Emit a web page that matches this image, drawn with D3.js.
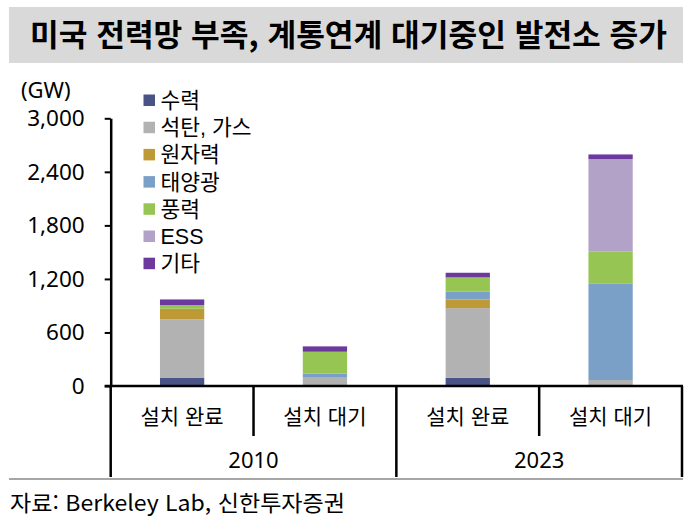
<!DOCTYPE html>
<html lang="ko">
<head>
  <meta charset="UTF-8">
  <title>미국 전력망 부족</title>
  <style>
    body { margin: 0; background: #fff; }
    text { font-family: "Noto Sans CJK KR", "Noto Sans", sans-serif; fill: #000; }
  </style>
</head>
<body>
  <svg id="mainsvg" width="690" height="521"></svg>
  <script src="https://cdn.jsdelivr.net/npm/d3@7"></script>
  <script>
    // 데이터 (GW)
    const years = ['2010', '2023']
    const categories = ['설치 완료', '설치 대기']
    const seriesNames = ['수력', '석탄, 가스', '원자력', '태양광', '풍력', 'ESS', '기타']
    const hydro   = [90, 0, 93, 0]
    const coalGas = [657, 93, 780, 67]
    const nuclear = [119, 0, 97, 0]
    const solar   = [0, 48, 90, 1083]
    const wind    = [41, 243, 157, 355]
    const ess     = [0, 0, 0, 1038]
    const other   = [63, 60, 52, 52]
    const yTicks  = [0, 600, 1200, 1800, 2400, 3000]
    const colors  = ['#4a5386', '#b2b2b2', '#bd9a36', '#7ba0c7', '#96c553', '#b3a2c7', '#6b3a9c']

    const seriesValues = [hydro, coalGas, nuclear, solar, wind, ess, other]
    const keys = []
    years.forEach(y => categories.forEach(c => keys.push(y + '|' + c)))
    const rows = keys.map((k, i) => {
      const row = { key: k }
      seriesNames.forEach((s, j) => { row[s] = seriesValues[j][i] })
      return row
    })

    const svg = d3.select('#mainsvg')
    const plotLeft = 110.7, plotRight = 682, plotTop = 118.3, base = 386, tableBottom = 477

    // 제목
    svg.append('rect').attr('x', 9).attr('y', 7).attr('width', 674).attr('height', 56).attr('fill', '#d9d9d9')
    svg.append('text').text('미국 전력망 부족, 계통연계 대기중인 발전소 증가')
      .attr('x', 348.5).attr('y', 46).attr('text-anchor', 'middle')
      .attr('font-size', 31).attr('font-weight', 'bold')
      .attr('textLength', 637).attr('lengthAdjust', 'spacingAndGlyphs')

    const xScale = d3.scaleBand().domain(keys).range([plotLeft, plotRight]).padding(0)
    const yScale = d3.scaleLinear().domain([0, 3000]).range([base, plotTop])
    const barW = xScale.bandwidth() * 0.31

    const stacked = d3.stack().keys(seriesNames)(rows)

    svg.append('g').selectAll('g').data(stacked).join('g')
      .attr('fill', (d, i) => colors[i])
      .selectAll('rect').data(d => d).join('rect')
      .attr('x', d => xScale(d.data.key) + (xScale.bandwidth() - barW) / 2)
      .attr('y', d => yScale(d[1]))
      .attr('width', barW)
      .attr('height', d => yScale(d[0]) - yScale(d[1]))

    // y축
    const yAxis = d3.axisLeft(yScale).tickValues(yTicks).tickFormat(d3.format(','))
      .tickSize(6).tickSizeOuter(0).tickPadding(20)
    const gy = svg.append('g').attr('transform', `translate(${plotLeft}, 0)`).call(yAxis)
    gy.select('.domain').attr('stroke', '#000').attr('stroke-width', 2.5)
    gy.selectAll('.tick line').attr('stroke', '#000').attr('stroke-width', 2)
    gy.selectAll('.tick text').attr('font-size', 22.5).attr('fill', '#000')
      .style('font-family', '"Noto Sans", sans-serif')

    svg.append('text').text('(GW)').attr('x', 21).attr('y', 98).attr('font-size', 22)
      .style('font-family', '"Noto Sans", sans-serif')

    // x축 및 표
    const tbl = svg.append('g').attr('stroke', '#000')
    tbl.append('line').attr('x1', plotLeft - 6).attr('x2', plotRight + 1).attr('y1', base).attr('y2', base).attr('stroke-width', 2.5)
    const edges = keys.map(k => xScale(k)).concat([xScale(keys[keys.length - 1]) + xScale.bandwidth()])
    edges.forEach((x, i) => {
      tbl.append('line').attr('x1', x).attr('x2', x).attr('y1', base)
        .attr('y2', i % 2 === 0 ? tableBottom : 436).attr('stroke-width', 2.5)
    })
    svg.append('line').attr('x1', 9).attr('x2', 683).attr('y1', 479).attr('y2', 479)
      .attr('stroke', '#a6a6a6').attr('stroke-width', 2)

    keys.forEach(k => {
      svg.append('text').text(k.split('|')[1])
        .attr('x', xScale(k) + xScale.bandwidth() / 2).attr('y', 424)
        .attr('text-anchor', 'middle').attr('font-size', 21)
    })
    years.forEach((y, i) => {
      const x0 = xScale(keys[i * 2])
      svg.append('text').text(y)
        .attr('x', x0 + xScale.bandwidth()).attr('y', 468)
        .attr('text-anchor', 'middle').attr('font-size', 22)
        .style('font-family', '"Noto Sans", sans-serif')
    })

    // 범례 (Liberation Sans 먼저 -> 글자 상자 높이가 줄 간격보다 작게)
    const legend = svg.append('g')
    seriesNames.forEach((s, i) => {
      const cy = 100 + i * 27.2
      legend.append('rect').attr('x', 143.5).attr('y', cy - 5.5).attr('width', 11.5).attr('height', 11.5).attr('fill', colors[i])
      legend.append('text').text(s).attr('x', 160.5).attr('y', cy + 8).attr('font-size', 21.5)
        .style('font-family', '"Liberation Sans", "Noto Sans CJK KR", sans-serif')
    })

    // 출처
    svg.append('text').text('자료: Berkeley Lab, 신한투자증권')
      .attr('x', 10).attr('y', 511).attr('font-size', 22)
      .attr('textLength', 335).attr('lengthAdjust', 'spacingAndGlyphs')
  </script>
</body>
</html>
